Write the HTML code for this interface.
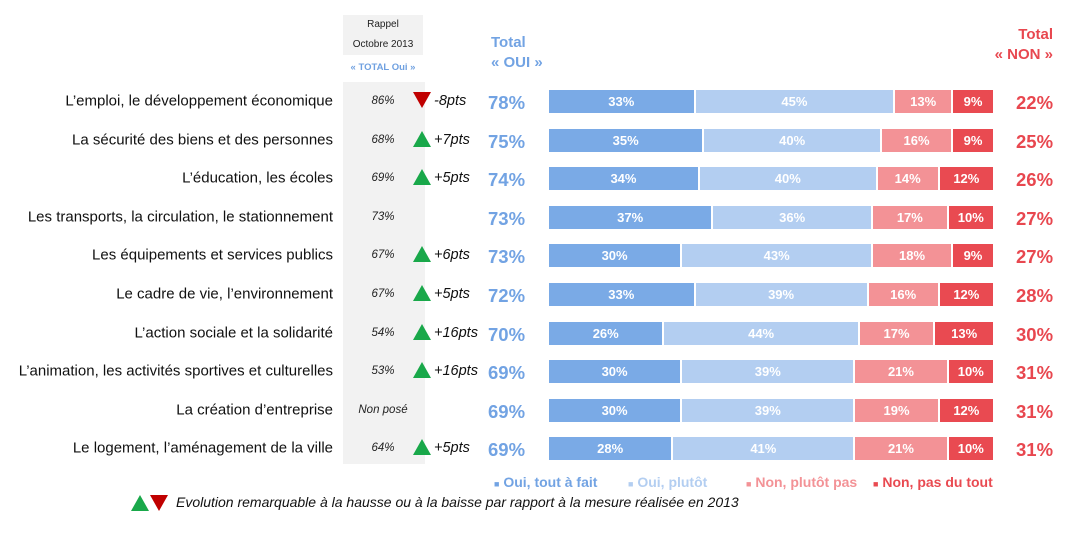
<!DOCTYPE html>
<html><head><meta charset="utf-8"><style>
body{margin:0;width:1090px;height:539px;background:#fff;font-family:"Liberation Sans",Arial,sans-serif;position:relative;overflow:hidden}
.a{position:absolute;white-space:nowrap}
.lab{right:757px;font-size:15px;color:#111;transform:translateY(-50%)}
.rap{left:343px;width:82px;text-align:center;padding-right:2px;box-sizing:border-box;font-size:11.5px;font-style:italic;color:#222;transform:translateY(-50%)}
.pts{left:434px;font-size:14.5px;font-style:italic;color:#111;transform:translateY(-50%)}
.oui{left:488px;font-size:18.5px;font-weight:bold;color:#72a3e3;transform:translateY(-40%)}
.non{left:1016px;font-size:18.5px;font-weight:bold;color:#e8474f;transform:translateY(-40%)}
.bar{left:549px;width:444px;height:23px;display:flex}
.bar div{height:100%;color:#fff;font-weight:bold;font-size:13px;line-height:23px;text-align:center;box-sizing:border-box;border-right:2px solid #fff}
.bar div:last-child{border-right:none}
.c1{background:#7aaae6}.c2{background:#b3cef1}.c3{background:#f39296}.c4{background:#e94a51}
.up{width:0;height:0;border-left:9px solid transparent;border-right:9px solid transparent;border-bottom:16px solid #19a84a}
.dn{width:0;height:0;border-left:9px solid transparent;border-right:9px solid transparent;border-top:16px solid #c00000}
</style></head><body>
<div class="a" style="left:343px;top:15px;width:80px;height:40px;background:#f2f2f2;font-size:10px;text-align:center;line-height:20px;color:#222">Rappel<br>Octobre 2013</div>
<div class="a" style="left:343px;top:62px;width:80px;text-align:center;font-size:9.5px;font-weight:bold;color:#6fa0e0">« TOTAL Oui »</div>
<div class="a" style="left:343px;top:82px;width:82px;height:382px;background:#f2f2f2"></div>
<div class="a" style="left:491px;top:33px;font-size:15px;font-weight:bold;color:#72a3e3;line-height:20px">Total<br>« OUI »</div>
<div class="a" style="left:993px;top:25px;font-size:15px;font-weight:bold;color:#e8474f;line-height:20px;text-align:right;width:60px">Total<br>« NON »</div>
<div id="rows"></div>
<div class="a" style="left:494px;top:474px;font-size:14px;font-weight:bold;color:#72a3e3"><span style="font-size:9px">■</span> Oui, tout à fait</div>
<div class="a" style="left:628px;top:474px;font-size:14px;font-weight:bold;color:#b3cef1"><span style="font-size:9px">■</span> Oui, plutôt</div>
<div class="a" style="left:746px;top:474px;font-size:14px;font-weight:bold;color:#f39296"><span style="font-size:9px">■</span> Non, plutôt pas</div>
<div class="a" style="left:873px;top:474px;font-size:14px;font-weight:bold;color:#e94a51"><span style="font-size:9px">■</span> Non, pas du tout</div>
<div class="a up" style="left:131px;top:495px"></div>
<div class="a dn" style="left:150px;top:495px"></div>
<div class="a" style="left:176px;top:494px;font-size:14px;font-style:italic;color:#111">Evolution remarquable à la hausse ou à la baisse par rapport à la mesure réalisée en 2013</div>
<script>
var d=[
["L’emploi, le développement économique","86%","dn","-8pts",78,[33,45,13,9],22],
["La sécurité des biens et des personnes","68%","up","+7pts",75,[35,40,16,9],25],
["L’éducation, les écoles","69%","up","+5pts",74,[34,40,14,12],26],
["Les transports, la circulation, le stationnement","73%","","",73,[37,36,17,10],27],
["Les équipements et services publics","67%","up","+6pts",73,[30,43,18,9],27],
["Le cadre de vie, l’environnement","67%","up","+5pts",72,[33,39,16,12],28],
["L’action sociale et la solidarité","54%","up","+16pts",70,[26,44,17,13],30],
["L’animation, les activités sportives et culturelles","53%","up","+16pts",69,[30,39,21,10],31],
["La création d’entreprise","Non posé","","",69,[30,39,19,12],31],
["Le logement, l’aménagement de la ville","64%","up","+5pts",69,[28,41,21,10],31]];
var h="";
d.forEach(function(r,i){var y=101+i*38.6;
h+='<div class="a lab" style="top:'+y+'px">'+r[0]+'</div>';
h+='<div class="a rap" style="top:'+y+'px">'+r[1]+'</div>';
if(r[2])h+='<div class="a '+r[2]+'" style="left:413px;top:'+(y-9)+'px"></div><div class="a pts" style="top:'+y+'px">'+r[3]+'</div>';
h+='<div class="a oui" style="top:'+y+'px">'+r[4]+'%</div>';
h+='<div class="a non" style="top:'+y+'px">'+r[6]+'%</div>';
h+='<div class="a bar" style="top:'+(y-11)+'px">';
r[5].forEach(function(v,k){h+='<div class="c'+(k+1)+'" style="width:'+(v*4.44)+'px">'+v+'%</div>';});
h+='</div>';});
document.getElementById("rows").innerHTML=h;
</script>
</body></html>
